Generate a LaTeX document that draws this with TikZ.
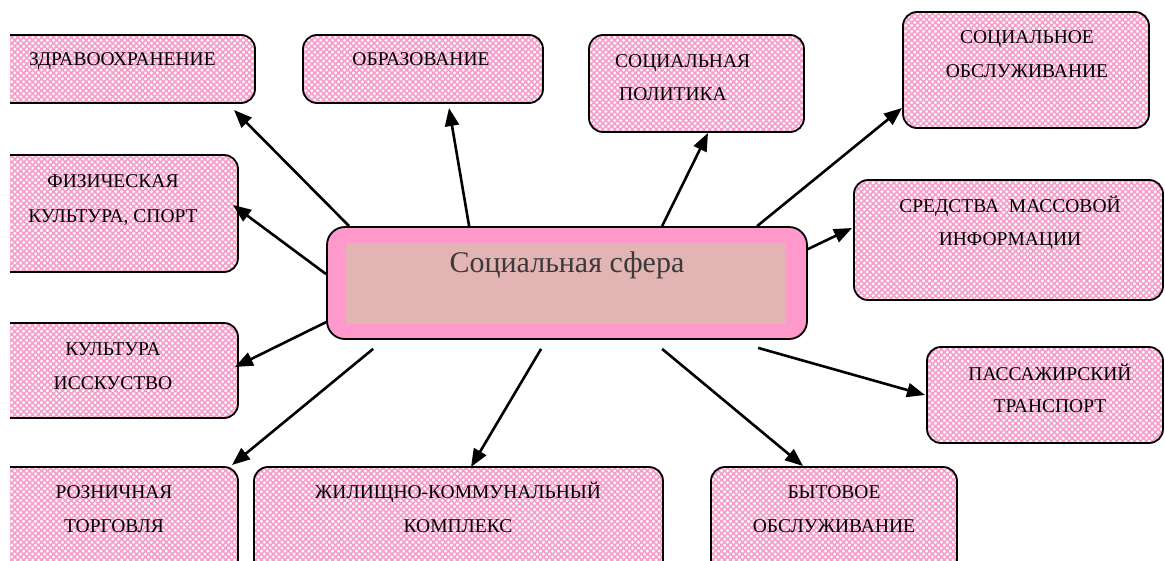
\documentclass[tikz,border=0pt]{standalone}
\usepackage{fontspec}
\setmainfont{Liberation Serif}
\usetikzlibrary{arrows.meta,patterns.meta,calc}
\definecolor{pk}{HTML}{F79CCA}
\definecolor{outerpk}{HTML}{FF99CC}
\definecolor{innerpk}{HTML}{E3B4B4}
\definecolor{ctext}{HTML}{3A3A3A}
\begin{document}
\begin{tikzpicture}[x=1pt,y=-1pt,
  pbox/.style={draw=black, line width=1.8pt, rounded corners=14pt, inner sep=0pt, outer sep=0pt,
    preaction={fill=white},
    preaction={pattern={Lines[angle=45,distance=4.2pt,line width=1.6pt]}, pattern color=pk},
    preaction={pattern={Lines[angle=-45,distance=4.2pt,line width=1.6pt]}, pattern color=pk}},
  lbl/.style={font=\fontsize{19.5}{21}\selectfont, inner sep=0pt, anchor=base},
  lblw/.style={lbl, anchor=base west},
  arr/.style={line width=2.6pt, -{Triangle[length=18pt,width=14pt]}}]
\useasboundingbox (0,0) rectangle (1165,560);
\begin{scope}
  \clip (10,0) rectangle (1165,560);
  \node[pbox, minimum width=285pt, minimum height=68pt]  (b1)  at (112.5,69) {};
  \node[pbox, minimum width=240pt, minimum height=68pt]  (b2)  at (423,69) {};
  \node[pbox, minimum width=215pt, minimum height=97pt]  (b3)  at (696.5,83.5) {};
  \node[pbox, minimum width=246pt, minimum height=116pt] (b4)  at (1026,70) {};
  \node[pbox, minimum width=268pt, minimum height=117pt] (b5)  at (104,213.5) {};
  \node[pbox, minimum width=309pt, minimum height=120pt] (b6)  at (1008.5,240) {};
  \node[pbox, minimum width=268pt, minimum height=95pt]  (b7)  at (104,370.5) {};
  \node[pbox, minimum width=236pt, minimum height=96pt]  (b8)  at (1045,395) {};
  \node[pbox, minimum width=268pt, minimum height=123pt] (b9)  at (104,528.5) {};
  \node[pbox, minimum width=409pt, minimum height=123pt] (b10) at (458.5,528.5) {};
  \node[pbox, minimum width=246pt, minimum height=123pt] (b11) at (834,528.5) {};
\end{scope}
% labels
\node[lblw] (t1)  at (29,65) {ЗДРАВООХРАНЕНИЕ};
\node[lbl]  (t2)  at (421,65) {ОБРАЗОВАНИЕ};
\node[lblw] (t3a) at (615,67) {СОЦИАЛЬНАЯ};
\node[lblw] (t3b) at (619,100) {ПОЛИТИКА};
\node[lbl]  (t4a) at (1027,43) {СОЦИАЛЬНОЕ};
\node[lbl]  (t4b) at (1027,77) {ОБСЛУЖИВАНИЕ};
\node[lbl]  (t5a) at (113,187) {ФИЗИЧЕСКАЯ};
\node[lbl]  (t5b) at (113,222) {КУЛЬТУРА, СПОРТ};
\node[lbl]  (t6a) at (1010,212) {СРЕДСТВА\ \ МАССОВОЙ};
\node[lbl]  (t6b) at (1010,245) {ИНФОРМАЦИИ};
\node[lbl]  (t7a) at (113,355) {КУЛЬТУРА};
\node[lbl]  (t7b) at (113,389) {ИССКУСТВО};
\node[lbl]  (t8a) at (1050,380) {ПАССАЖИРСКИЙ};
\node[lbl]  (t8b) at (1050,412) {ТРАНСПОРТ};
\node[lbl]  (t9a) at (114,498) {РОЗНИЧНАЯ};
\node[lbl]  (t9b) at (114,532) {ТОРГОВЛЯ};
\node[lbl]  (t10a) at (458,498) {ЖИЛИЩНО-КОММУНАЛЬНЫЙ};
\node[lbl]  (t10b) at (458,532) {КОМПЛЕКС};
\node[lbl]  (t11a) at (834,498) {БЫТОВОЕ};
\node[lbl]  (t11b) at (834,532) {ОБСЛУЖИВАНИЕ};
% central box
\node[draw=black, line width=1.8pt, rounded corners=18pt, fill=outerpk, inner sep=0pt,
      minimum width=480pt, minimum height=112pt] (c) at (567,283) {};
\node[fill=innerpk, inner sep=0pt, minimum width=440pt, minimum height=81pt] (ci) at (566,283.5) {};
\node[font=\fontsize{30}{32}\selectfont, text=ctext, inner sep=0pt, anchor=base] (ct) at (567,272) {Социальная сфера};
% arrows
\draw[arr] ($(c.north west)+(23,0)$)  -- ($(b1.south east)+(-21,7)$);
\draw[arr] ($(c.north west)+(143,0)$) -- ($(b2.south)+(26,5)$);
\draw[arr] ($(c.north west)+(336,0)$) -- ($(b3.south)+(11.5,1)$);
\draw[arr] ($(c.north west)+(431,0)$) -- ($(b4.south west)+(-1,-20)$);
\draw[arr] ($(c.north east)+(0,23)$)  -- ($(b6.west)+(-2,-12)$);
\draw[arr] ($(c.north west)+(0,48)$)  -- ($(b5.east)+(-5,-8.5)$);
\draw[arr] ($(c.north west)+(0,96)$)  -- ($(b7.east)+(-3,-3.5)$);
\draw[arr] ($(c.south west)+(47,9)$)  -- ($(b9.north east)+(-6,-2)$);
\draw[arr] ($(c.south west)+(215,9)$) -- ($(b10.north)+(12.5,0)$);
\draw[arr] ($(c.south west)+(336,9)$) -- ($(b11.north)+(-31,-1)$);
\draw[arr] ($(c.south west)+(432,8)$) -- ($(b8.west)+(-2,0)$);
\end{tikzpicture}
\end{document}
